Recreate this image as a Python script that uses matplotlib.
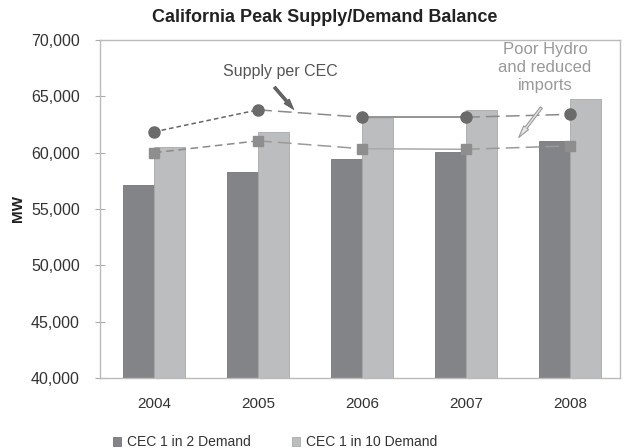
import matplotlib

matplotlib.use("Agg")
import matplotlib.pyplot as plt
from matplotlib.ticker import FuncFormatter

plt.rcParams.update({
    "font.family": ["Liberation Sans", "DejaVu Sans"],
    "font.size": 11,
})

# ── Данные ──
years = ["2004", "2005", "2006", "2007", "2008"]
demand_1in2 = [57100, 58300, 59400, 60100, 61050]
demand_1in10 = [60500, 61850, 63050, 63800, 64750]
supply_high = [61850, 63800, 63150, 63150, 63400]
supply_low = [60000, 61050, 60350, 60300, 60600]

# стиль каждого отрезка между соседними годами
high_styles = [((0, (3, 2)), "#666666"), ((0, (9, 4)), "#8a8a8a"),
               ("-", "#777777"), ((0, (9, 4)), "#8a8a8a")]
low_styles = [((0, (5, 3)), "#8a8a8a"), ((0, (9, 4)), "#9a9a9a"),
              ("-", "#aaaaaa"), ((0, (9, 4)), "#9a9a9a")]

fig = plt.figure(figsize=(6.35, 4.48), dpi=100)
ax = fig.add_axes([100 / 635, 1 - 378 / 448, 520 / 635, 338 / 448])

x = list(range(len(years)))
w = 0.295
ax.bar([i - w / 2 for i in x], demand_1in2, width=w, color="#838487",
       edgecolor="#747578", linewidth=0.6, label="CEC 1 in 2 Demand", zorder=2)
ax.bar([i + w / 2 for i in x], demand_1in10, width=w, color="#bcbdbf",
       edgecolor="#a8a9ab", linewidth=0.6, label="CEC 1 in 10 Demand", zorder=2)

# линии предложения
for i in range(len(years) - 1):
    ls, c = high_styles[i]
    ax.plot([x[i], x[i + 1]], [supply_high[i], supply_high[i + 1]], ls=ls, color=c, lw=1.1, zorder=3)
    ls, c = low_styles[i]
    ax.plot([x[i], x[i + 1]], [supply_low[i], supply_low[i + 1]], ls=ls, color=c, lw=1.1, zorder=3)
ax.plot(x, supply_high, ls="none", marker="o", ms=8, color="#6b6b6b", zorder=4)
ax.plot(x, supply_low, ls="none", marker="s", ms=7.5, color="#8e8e8e", zorder=4)

ax.set_xlim(-0.52, 4.48)
ax.set_ylim(40000, 70000)
ax.set_yticks(range(40000, 70001, 5000))
ax.yaxis.set_major_formatter(FuncFormatter(lambda v, p: f"{int(v):,}"))
ax.set_xticks(x)
ax.set_xticklabels(years)
ax.tick_params(axis="y", direction="inout", length=7, color="#aaaaaa", pad=11,
               labelsize=11.5, labelcolor="#333333")
ax.tick_params(axis="x", length=0, pad=14, labelsize=11, labelcolor="#333333")
for s in ax.spines.values():
    s.set_color("#bbbbbb")
    s.set_linewidth(1)

ax.set_ylabel("MW", fontsize=11, fontweight="bold", color="#222222")
ax.yaxis.set_label_coords(-0.145, 0.5)

# подписи
ax.text(1.21, 67160, "Supply per CEC", ha="center", va="center", fontsize=11.5, color="#555555")
ax.annotate("", xy=(1.36, 63650), xytext=(1.14, 66000),
            arrowprops=dict(arrowstyle="simple,head_width=0.45,head_length=0.7,tail_width=0.18",
                            fc="#666666", ec="#555555", lw=0.6))
ax.text(3.76, 67560, "Poor Hydro\nand reduced\nimports", ha="center", va="center",
        fontsize=12, color="#999999", linespacing=1.25)
ax.annotate("", xy=(3.49, 61150), xytext=(3.74, 64200),
            arrowprops=dict(arrowstyle="simple,head_width=0.4,head_length=0.8,tail_width=0.16",
                            fc="#e6e6e6", ec="#999999", lw=0.8))

fig.text(325 / 635, 1 - 17 / 448, "California Peak Supply/Demand Balance",
         ha="center", va="center", fontsize=13, fontweight="bold", color="#222222")

fig.legend(loc="center", bbox_to_anchor=(275 / 635, 1 - 442 / 448), ncol=2, frameon=False,
           fontsize=10, handlelength=0.6, handleheight=0.6, handletextpad=0.4,
           columnspacing=3.0, labelcolor="#333333")

fig.savefig("out.png", dpi=100)
plt.close(fig)
